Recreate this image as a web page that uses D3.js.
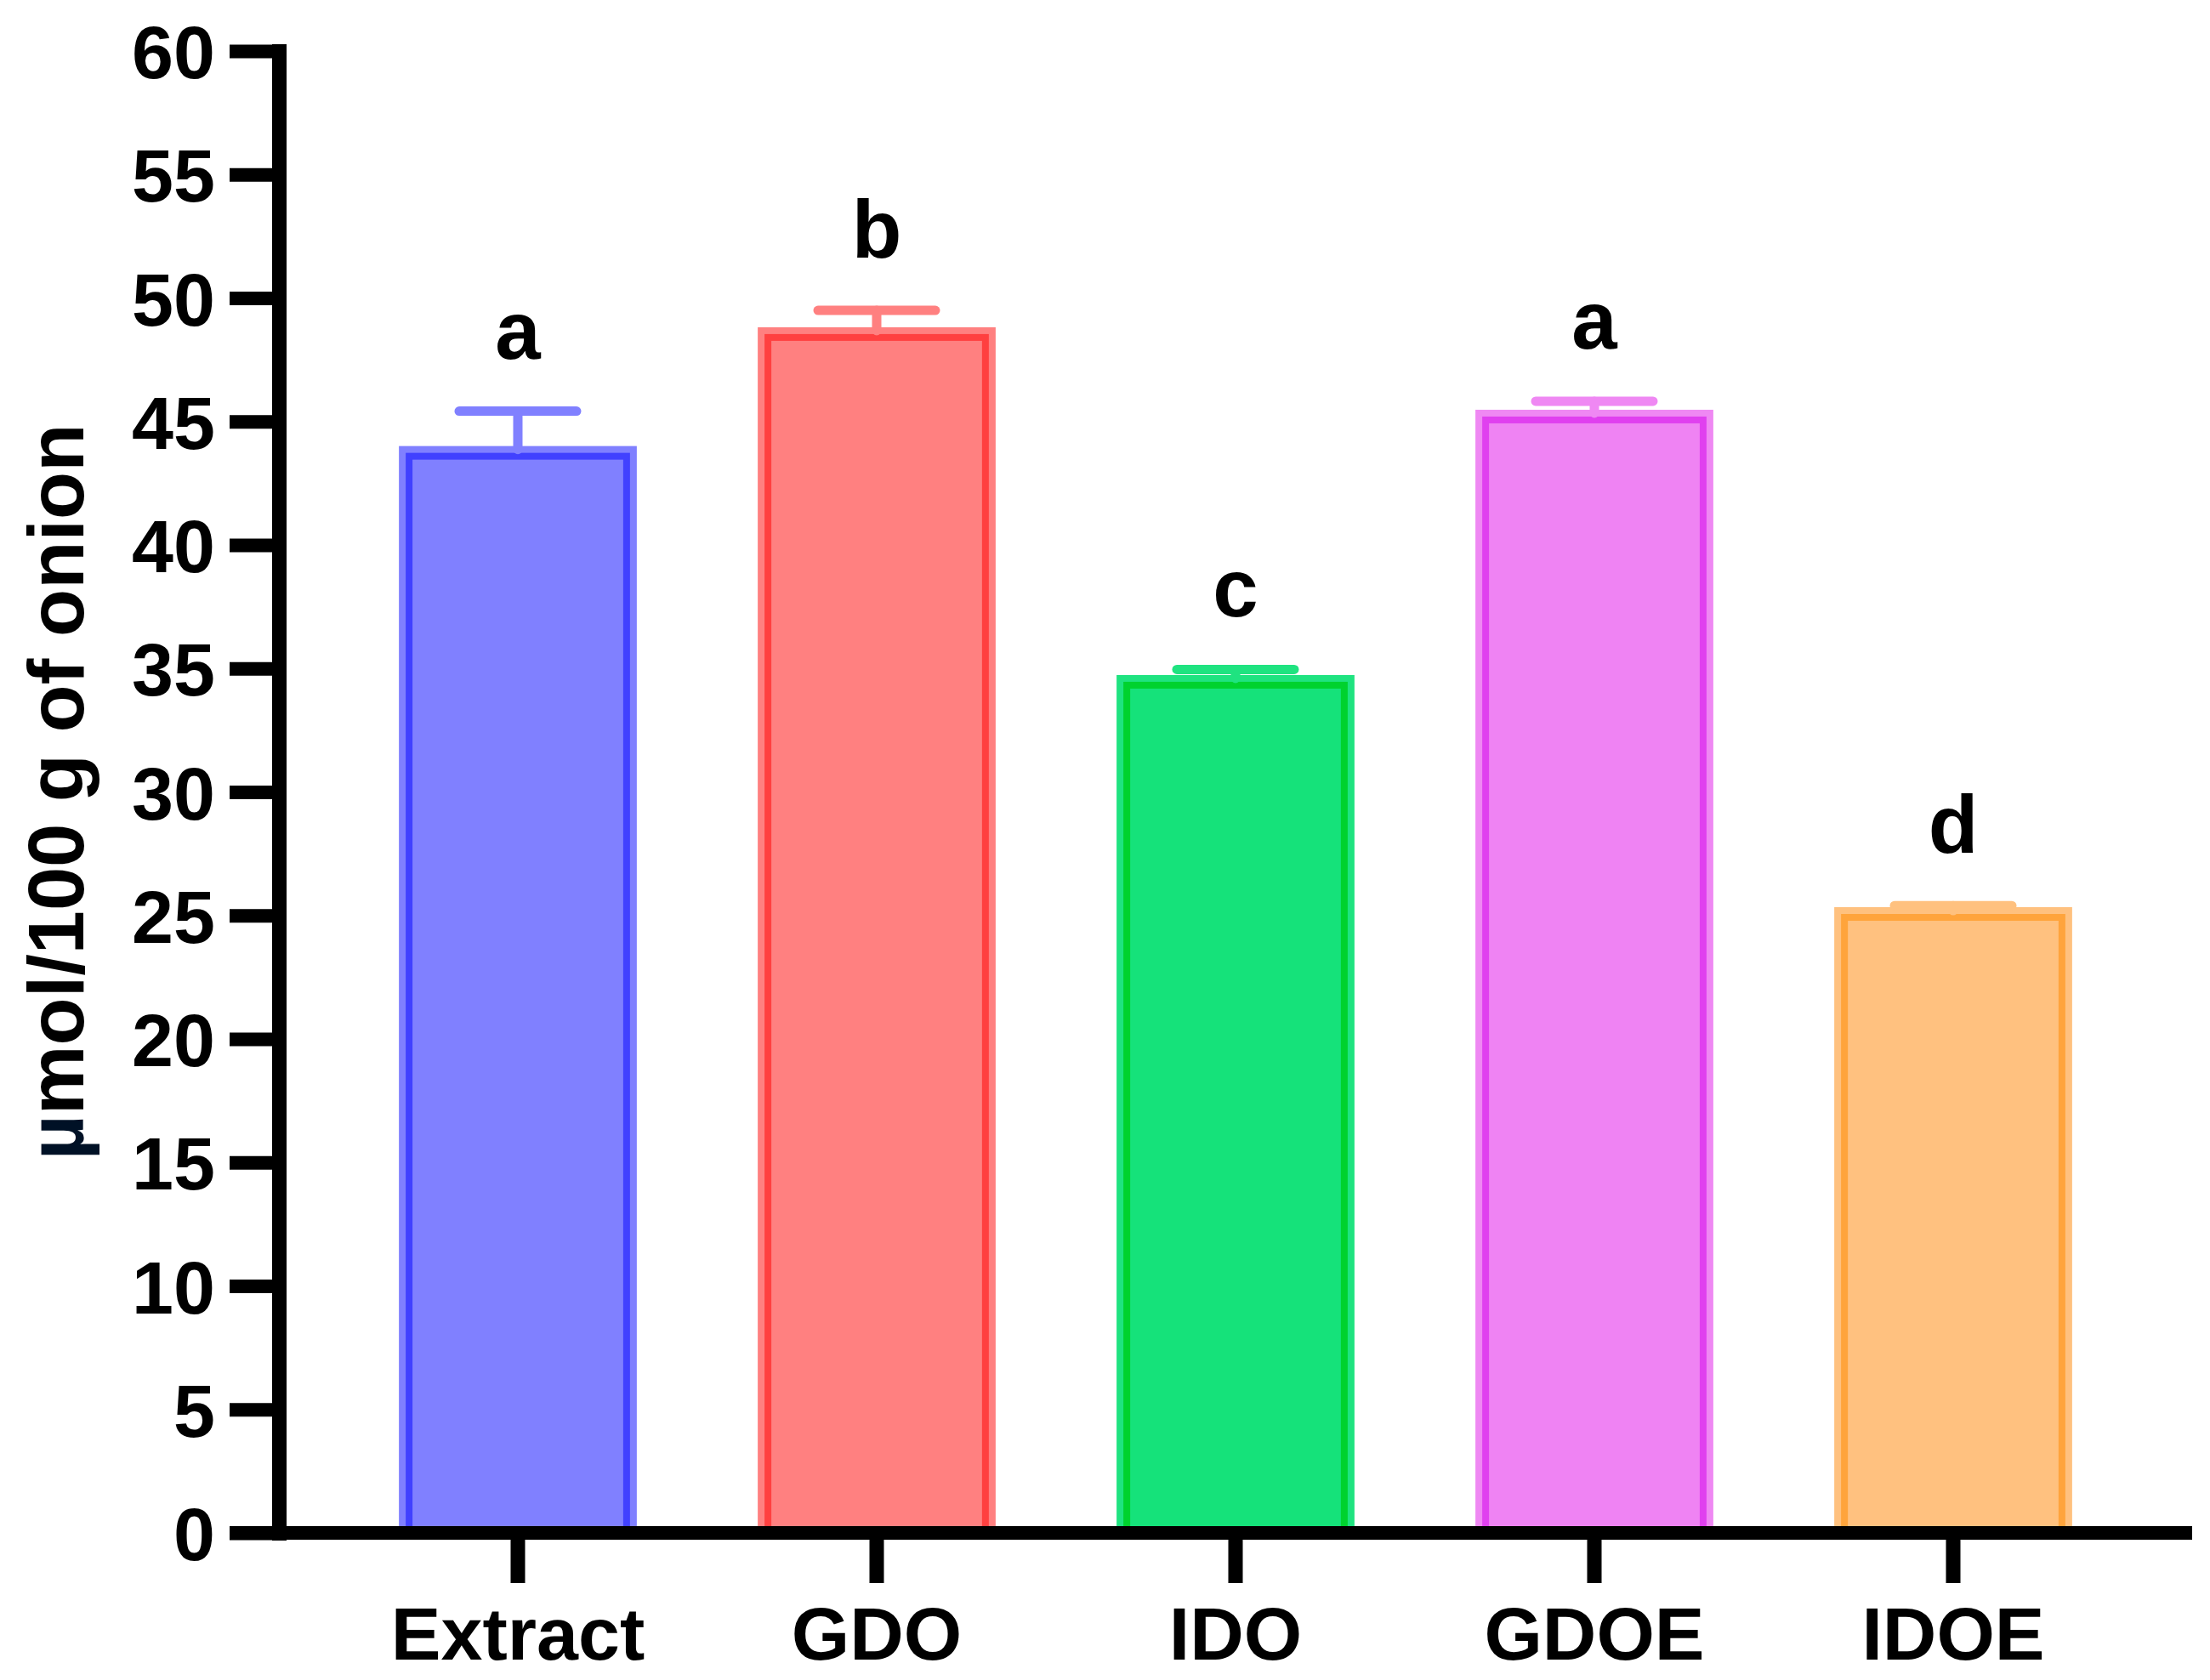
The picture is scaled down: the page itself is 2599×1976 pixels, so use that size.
<!DOCTYPE html>
<html>
<head>
<meta charset="utf-8">
<script src="https://cdn.jsdelivr.net/npm/d3@7"></script>
<style>
  body { margin: 0; background: #fff; }
  text { font-family: "Liberation Sans", Arial, Helvetica, sans-serif; font-weight: bold; }
</style>
</head>
<body>
<div id="chart"></div>
<script>
// data
const categories = ["Extract", "GDO", "IDO", "GDOE", "IDOE"];
const means = [43.73, 48.54, 34.46, 45.2, 25.06];
const errors = [1.69, 0.96, 0.5, 0.62, 0.34];
const letters = ["a", "b", "c", "a", "d"];
const yTicks = [0, 5, 10, 15, 20, 25, 30, 35, 40, 45, 50, 55, 60];

// colours per bar: fill, outer band, inner border line, error bar
const fillColors = ["#8080ff", "#ff8080", "#15e27a", "#ef83f3", "#ffc17f"];
const bandColors = ["#8080ff", "#ff8080", "#1fe380", "#ef88f3", "#ffc17f"];
const lineColors = ["#4141ff", "#ff4040", "#00d22e", "#e040ef", "#ffa43c"];
const errColors  = ["#8080ff", "#ff8080", "#1fe380", "#ef88f3", "#ffc17f"];

const width = 2599, height = 1976;
const axisX = 328, axisY = 1803;

const svg = d3.select("#chart").append("svg")
    .attr("width", width)
    .attr("height", height);

const y = d3.scaleLinear().domain([0, 60]).range([axisY, 60]);
const x = d3.scaleBand().domain(categories).range([398, 2508]);
const barW = x.bandwidth() * 0.625;
const cx = d => x(d) + x.bandwidth() / 2;

const rows = categories.map((c, i) => ({
    cat: c, mean: means[i], err: errors[i], letter: letters[i],
    fill: fillColors[i], band: bandColors[i], line: lineColors[i], ec: errColors[i]
}));

// bars
const bars = svg.append("g").attr("class", "bars");
bars.selectAll("rect.outer")
    .data(rows).enter().append("rect")
    .attr("class", "outer")
    .attr("x", d => cx(d.cat) - barW / 2)
    .attr("y", d => y(d.mean))
    .attr("width", barW)
    .attr("height", d => y(0) - y(d.mean))
    .attr("fill", d => d.fill)
    .attr("stroke", d => d.band)
    .attr("stroke-width", 16);

bars.selectAll("rect.inner")
    .data(rows).enter().append("rect")
    .attr("class", "inner")
    .attr("x", d => cx(d.cat) - barW / 2 + 4)
    .attr("y", d => y(d.mean) + 4)
    .attr("width", barW - 8)
    .attr("height", d => y(0) - y(d.mean) - 8)
    .attr("fill", "none")
    .attr("stroke", d => d.line)
    .attr("stroke-width", 8);

// error bars (upper only)
const errG = svg.append("g").attr("class", "errors")
    .attr("stroke-width", 11)
    .attr("stroke-linecap", "round");
errG.selectAll("line.stem")
    .data(rows).enter().append("line")
    .attr("x1", d => cx(d.cat)).attr("x2", d => cx(d.cat))
    .attr("y1", d => y(d.mean) - 4)
    .attr("y2", d => y(d.mean + d.err))
    .attr("stroke", d => d.ec);
errG.selectAll("line.cap")
    .data(rows).enter().append("line")
    .attr("x1", d => cx(d.cat) - 69).attr("x2", d => cx(d.cat) + 69)
    .attr("y1", d => y(d.mean + d.err))
    .attr("y2", d => y(d.mean + d.err))
    .attr("stroke", d => d.ec);

// significance letters
svg.append("g").selectAll("text")
    .data(rows).enter().append("text")
    .attr("x", d => cx(d.cat))
    .attr("y", d => y(d.mean + d.err) - 62)
    .attr("text-anchor", "middle")
    .attr("font-size", "96px")
    .attr("fill", "#000")
    .text(d => d.letter);

// y axis
const yAxis = svg.append("g")
    .attr("transform", `translate(${axisX}, 0)`)
    .call(d3.axisLeft(y).tickValues(yTicks).tickSize(58).tickSizeOuter(0).tickPadding(17));
yAxis.select(".domain")
    .attr("stroke", "#000")
    .attr("stroke-width", 17)
    .attr("stroke-linecap", "square");
yAxis.selectAll(".tick line").attr("stroke", "#000").attr("stroke-width", 16);
yAxis.selectAll(".tick text")
    .attr("font-size", "88px")
    .attr("fill", "#000")
    .attr("dy", "0.36em");

// x axis
const xAxis = svg.append("g")
    .attr("transform", `translate(0, ${axisY})`)
    .call(d3.axisBottom(x).tickSize(59).tickSizeOuter(0).tickPadding(28));
xAxis.select(".domain").remove();
xAxis.append("line")
    .attr("x1", 270).attr("x2", 2578)
    .attr("y1", 0).attr("y2", 0)
    .attr("stroke", "#000")
    .attr("stroke-width", 16);
xAxis.selectAll(".tick line").attr("stroke", "#000").attr("stroke-width", 17);
xAxis.selectAll(".tick text")
    .attr("font-size", "88px")
    .attr("fill", "#000");

// y axis title
svg.append("text")
    .attr("transform", `translate(98, ${(y(0) + y(60)) / 2 + 0}) rotate(-90)`)
    .attr("text-anchor", "middle")
    .attr("font-size", "92px")
    .attr("fill", "#000")
    .call(t => {
        t.append("tspan").attr("fill", "#001126").text("µ");
        t.append("tspan").text("mol/100 g of onion");
    });
</script>
</body>
</html>
